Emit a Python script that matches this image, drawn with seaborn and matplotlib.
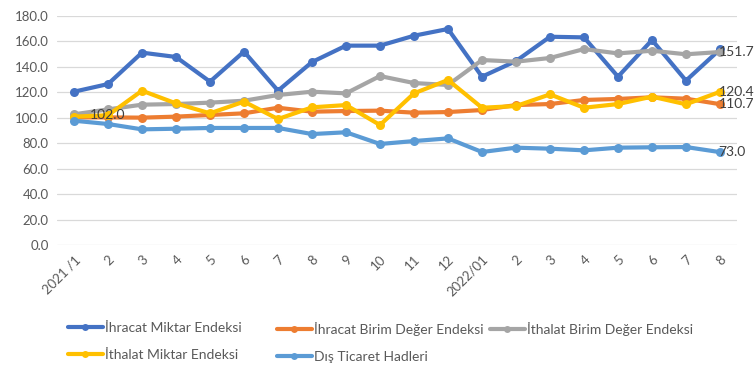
import numpy as np
import pandas as pd
import matplotlib
matplotlib.use("Agg")
import matplotlib.pyplot as plt
import seaborn as sns

# x axis labels
months = ["2021 /1", "2", "3", "4", "5", "6", "7", "8", "9", "10", "11", "12",
          "2022/01", "2", "3", "4", "5", "6", "7", "8"]

# values
ihracat_miktar = [120.5, 126.5, 151.2, 147.8, 128.4, 152.0, 121.3, 143.8, 156.7, 156.7,
                  164.5, 169.8, 132.3, 144.6, 163.7, 163.2, 132.3, 161.1, 129.2, 153.8]
ihracat_birim = [100.3, 100.3, 100.1, 100.9, 102.2, 103.5, 107.9, 104.8, 105.3, 105.6,
                 104.0, 104.5, 106.1, 110.0, 110.8, 114.0, 114.8, 116.1, 115.0, 110.7]
ithalat_birim = [102.7, 106.6, 110.3, 110.8, 111.9, 113.4, 117.9, 120.5, 119.2, 132.8,
                 127.3, 125.8, 145.4, 144.1, 147.0, 154.0, 150.6, 152.7, 149.9, 151.7]
ithalat_miktar = [100.9, 102.0, 121.3, 111.3, 103.5, 112.7, 99.0, 108.2, 110.0, 94.3,
                  119.2, 129.7, 107.9, 109.2, 118.4, 107.9, 110.8, 116.6, 110.6, 120.4]
dis_ticaret = [97.7, 95.1, 90.9, 91.4, 92.0, 92.0, 92.0, 87.2, 88.6, 79.4,
               81.7, 83.8, 73.1, 76.5, 75.7, 74.4, 76.5, 76.8, 77.0, 73.0]

names = ["İhracat Miktar Endeksi", "İhracat Birim Değer Endeksi", "İthalat Birim Değer Endeksi",
         "İthalat Miktar Endeksi", "Dış Ticaret Hadleri"]
series = [ihracat_miktar, ihracat_birim, ithalat_birim, ithalat_miktar, dis_ticaret]
colors = ["#4472C4", "#ED7D31", "#A5A5A5", "#FFC000", "#5B9BD5"]

sns.set_theme(style="white")
plt.rcParams['font.family'] = ['Lato', 'DejaVu Sans']

fig = plt.figure(figsize=(7.55, 3.65), dpi=100)
ax = fig.add_axes([57/755, 1 - 245/365, 680/755, 229/365])

pos = np.arange(len(months))
handles = []
for name, vals, c in zip(names, series, colors):
    sns.lineplot(x=pos, y=vals, color=c, marker='o', linewidth=3, markersize=6.5,
                 markeredgewidth=0, ax=ax, label=name)
    handles.append(ax.lines[-1])

ax.set_ylim(0, 180)
ax.set_yticks(np.arange(0, 181, 20))
ax.set_yticklabels([f"{v:.1f}" for v in np.arange(0, 181, 20)], fontsize=9.5, color="#595959")
ax.set_xlim(-0.5, len(months) - 0.5)
ax.set_xticks(pos)
ax.set_xticklabels(months, rotation=45, ha='right', rotation_mode='anchor',
                   fontsize=9.5, color="#595959")
ax.tick_params(axis='both', length=0, pad=6)
ax.grid(axis='y', color="#D9D9D9", linewidth=0.9)
ax.grid(axis='x', visible=False)
for s in ax.spines.values():
    s.set_visible(False)
ax.get_legend().remove()

# data labels
last = len(months) - 1
for vals in [ithalat_birim, ithalat_miktar, ihracat_birim, dis_ticaret]:
    ax.annotate(f"{vals[-1]:.1f}", (last, vals[-1]), xytext=(-1, 0), textcoords='offset points',
                ha='left', va='center', fontsize=10, color="#404040")
ax.annotate(f"{ithalat_miktar[1]:.1f}", (1, ithalat_miktar[1]), ha='center', va='center',
            fontsize=10, color="#404040")

# legend, laid out row by row like the original
cols = [(68, [0, 3]), (277, [1, 4]), (490, [2])]
for x0, idx in cols:
    leg = fig.legend([handles[i] for i in idx], [names[i] for i in idx],
                     loc='upper left', bbox_to_anchor=((x0 - 5.5)/755, 1 - 316/365),
                     frameon=False, fontsize=10, handlelength=2.5, handletextpad=0.15,
                     labelspacing=1.1, labelcolor="#595959", borderaxespad=0)
    for h in leg.legend_handles:
        h.set_markersize(5)
        h.set_linewidth(3)

fig.savefig("out.png", dpi=100)
